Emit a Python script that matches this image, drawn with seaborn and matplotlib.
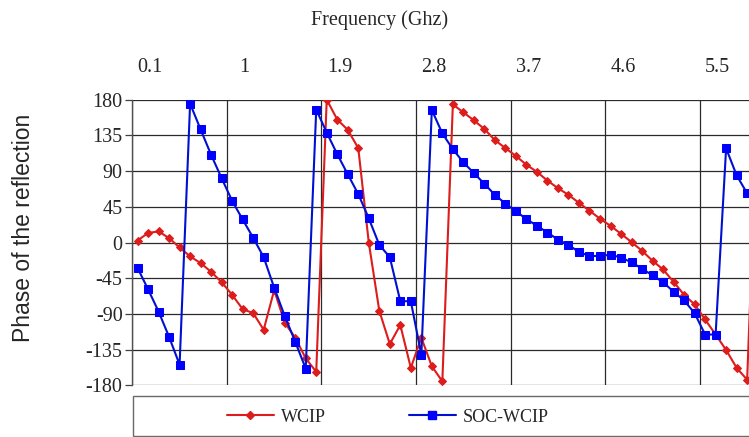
import numpy as np
import pandas as pd
import matplotlib
matplotlib.use("Agg")
import matplotlib.pyplot as plt
import seaborn as sns
from matplotlib.lines import Line2D
from matplotlib.patches import Rectangle

# ---------------- data ----------------
freq = [0.1, 0.2, 0.3, 0.4, 0.5, 0.6, 0.7, 0.8, 0.9, 1.0,
        1.1, 1.2, 1.3, 1.4, 1.5, 1.6, 1.7, 1.8, 1.9, 2.0,
        2.1, 2.2, 2.3, 2.4, 2.5, 2.6, 2.7, 2.8, 2.9, 3.0,
        3.1, 3.2, 3.3, 3.4, 3.5, 3.6, 3.7, 3.8, 3.9, 4.0,
        4.1, 4.2, 4.3, 4.4, 4.5, 4.6, 4.7, 4.8, 4.9, 5.0,
        5.1, 5.2, 5.3, 5.4, 5.5, 5.6, 5.7, 5.8, 5.9, 6.0]

wcip = [2.5, 12, 14, 5.5, -6.3, -17.5, -26, -37, -50, -66,
        -84, -89, -110, -60, -101, -120, -146, -163, 180, 155,
        142, 119, 0, -86, -128, -104, -158, -120, -156, -175,
        174, 164, 154, 143, 129, 119, 109, 98, 89, 78,
        68.5, 60, 50, 40, 30, 21, 11, 0.5, -10.5, -23,
        -34, -49.5, -66, -78, -97, -116, -135.5, -158, -173, 175]

soc_wcip = [-32, -59, -87, -119, -154, 175, 142.5, 110.5, 81, 52.5,
            29, 6, -18.5, -57, -92.5, -125, -159, 167.5, 138.5, 111.3,
            86, 61, 30.5, -3, -18.5, -74, -74, -141.5, 167, 137.5,
            117.6, 101, 87.5, 74, 60, 49, 39.3, 29.6, 21, 12.6,
            3.6, -3, -12, -17, -17, -15.3, -19, -25, -33, -41.5,
            -50, -62, -73, -89, -116, -116, 118.7, 84.7, 62, 42]

tick_labels = ["0.1", "1", "1.9", "2.8", "3.7", "4.6", "5.5"]
y_ticks = [-180, -135, -90, -45, 0, 45, 90, 135, 180]

series_names = ["WCIP", "SOC-WCIP"]
colors = {"WCIP": "#dd1c1c", "SOC-WCIP": "#0010d0"}

idx = list(range(len(freq)))
df = pd.DataFrame({
    "idx": idx * 2,
    "freq": freq * 2,
    "phase": wcip + soc_wcip,
    "series": ["WCIP"] * len(freq) + ["SOC-WCIP"] * len(freq),
})

# ---------------- style ----------------
sns.set_theme(style="white")
plt.rcParams["font.family"] = ["Liberation Serif", "DejaVu Serif"]

W_PX, H_PX = 749, 437
fig = plt.figure(figsize=(W_PX / 100, H_PX / 100), dpi=100)

left_px, top_px, bot_px = 132.3, 99.7, 385.3
cat_px = 10.51
xmax = 63.0
ax = fig.add_axes([left_px / W_PX, 1 - bot_px / H_PX,
                   (xmax + 0.5) * cat_px / W_PX, (bot_px - top_px) / H_PX])

# grid lines
for y in y_ticks:
    ax.axhline(y, color="#2a2a2a", lw=0.9, zorder=0)
group = 9
for j in range(len(tick_labels)):
    ax.axvline(group * j - 0.5, color="#2a2a2a", lw=0.9, zorder=0)

sns.lineplot(data=df[df.series == "WCIP"], x="idx", y="phase", ax=ax,
             color=colors["WCIP"], marker="D", markersize=3.6,
             markeredgecolor=colors["WCIP"], linewidth=1.5, sort=False,
             zorder=2)
sns.lineplot(data=df[df.series == "SOC-WCIP"], x="idx", y="phase", ax=ax,
             color=colors["SOC-WCIP"], marker="s", markersize=5.8,
             markeredgecolor="#0000ff", markerfacecolor="#0000ff",
             linewidth=1.5, sort=False, zorder=3)

ax.set_xlim(-0.5, xmax)
ax.set_ylim(-180, 180)
ax.set_xlabel("")
ax.set_ylabel("")

ax.xaxis.tick_top()
ax.set_xticks([group * j + 1.2 for j in range(len(tick_labels))])
ax.set_xticklabels(tick_labels)
ax.tick_params(axis="x", length=0, pad=16, labelsize=14.5, top=True, bottom=False)
ax.set_yticks(y_ticks)
ax.set_yticklabels([str(v) for v in y_ticks])
ax.tick_params(axis="y", length=5, width=0.9, color="#404040", pad=2,
               labelsize=14.5, left=True)

for s in ["top", "right", "bottom"]:
    ax.spines[s].set_visible(False)
ax.spines["left"].set_color("#505050")
ax.spines["left"].set_linewidth(1.0)

# titles
fig.text(380 / W_PX, 1 - 20 / H_PX, "Frequency (Ghz)", ha="center", va="center",
         fontsize=14.5, family=["Liberation Serif"])
fig.text(24 / W_PX, 1 - 228 / H_PX, "Phase of the reflection", rotation=90,
         ha="center", va="center", fontsize=16.5, family=["Liberation Sans"])

# legend box
fig.add_artist(Rectangle((133 / W_PX, 1 / H_PX), 1.0, (437 - 397) / H_PX,
                         transform=fig.transFigure, facecolor="white",
                         edgecolor="#6a6a6a", lw=1.0))
handles = [Line2D([], [], color=colors["WCIP"], marker="D", markersize=3.6, lw=1.5),
           Line2D([], [], color=colors["SOC-WCIP"], marker="s", markersize=5.8,
                  markerfacecolor="#0000ff", markeredgecolor="#0000ff", lw=1.5)]
fig.legend(handles, series_names, loc="center",
           bbox_to_anchor=(388 / W_PX, 1 - 417 / H_PX), ncol=2, frameon=False,
           handlelength=2.6, columnspacing=4.6, handletextpad=0.4,
           prop={"family": "Liberation Serif", "size": 13})

fig.savefig("out.png", dpi=100)
